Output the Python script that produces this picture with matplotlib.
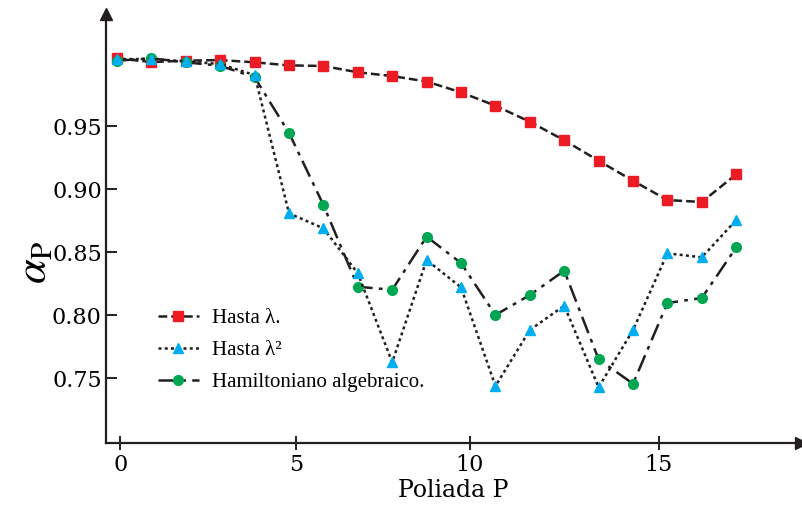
import numpy as np
import matplotlib
matplotlib.use("Agg")
import matplotlib.pyplot as plt

# Poliada index and the three curves
poliada = np.arange(19)
hasta_lambda = [1.0037, 1.0007, 1.0018, 1.0023, 1.0005, 0.9981, 0.9976, 0.9926, 0.9896, 0.9853,
                0.9767, 0.9661, 0.9534, 0.9387, 0.9225, 0.9066, 0.8913, 0.8898, 0.9117]
hasta_lambda2 = [1.0031, 1.0031, 1.0013, 0.9991, 0.9904, 0.8808, 0.8689, 0.8332, 0.7627, 0.8438,
                 0.8221, 0.7439, 0.7883, 0.8076, 0.7429, 0.7883, 0.8491, 0.8459, 0.8755]
hamiltoniano = [1.0018, 1.0037, 1.0005, 0.9978, 0.9886, 0.9445, 0.8874, 0.8226, 0.8202, 0.8623,
                0.8414, 0.8002, 0.8160, 0.8353, 0.7650, 0.7457, 0.8097, 0.8137, 0.8538]

ytick_vals = [0.75, 0.80, 0.85, 0.90, 0.95]
xtick_labels = ["0", "5", "10", "15"]
xtick_pos = [0.1, 5.2, 10.25, 15.75]   # where the labels sit on the original axis

plt.rcParams["mathtext.fontset"] = "stix"
serif = "DejaVu Serif"
ink = "#231F20"

fig = plt.figure(figsize=(8.02, 5.08), dpi=100)
ax = fig.add_axes([0.1322, 0.1274, 0.866, 0.846])

ax.plot(poliada, hasta_lambda, color=ink, lw=1.8, dashes=(3.5, 1.6),
        marker="s", ms=7, mfc="#ED1C24", mec="#ED1C24", label="Hasta λ.")
ax.plot(poliada, hamiltoniano, color=ink, lw=1.8, dashes=(7, 2.5, 1.5, 2.5),
        marker="o", ms=7, mfc="#00A651", mec="#00A651", label="Hamiltoniano algebraico.")
ax.plot(poliada, hasta_lambda2, color=ink, lw=1.8, dashes=(1.2, 1.3),
        marker="^", ms=7.5, mfc="#00AEEF", mec="#00AEEF", label="Hasta λ²")

ax.set_xlim(-0.32, 19.87)
ax.set_ylim(0.6985, 1.0392)

ax.set_yticks(ytick_vals)
ax.set_yticklabels(["%.2f" % v for v in ytick_vals], family=serif, fontsize=16)
ax.set_xticks(xtick_pos)
ax.set_xticklabels(xtick_labels, family=serif, fontsize=16)
ax.tick_params(axis="y", direction="in", length=8, width=1.4, color=ink, pad=3)
ax.tick_params(axis="x", direction="inout", length=10, width=1.4, color=ink, pad=3)

for side in ["top", "right"]:
    ax.spines[side].set_visible(False)
for side in ["left", "bottom"]:
    ax.spines[side].set_linewidth(1.6)
    ax.spines[side].set_color(ink)

# arrow heads on the axes
ax.plot(1, 0, ">", color=ink, ms=9, transform=ax.transAxes, clip_on=False)
ax.plot(0, 1, "^", color=ink, ms=9, transform=ax.transAxes, clip_on=False)

ax.set_xlabel("Poliada P", family=serif, fontsize=17, labelpad=2)
fig.text(33 / 802, 1 - 262 / 508, r"$\alpha_{\mathrm{P}}$", fontsize=32,
         rotation=90, ha="center", va="center")

h, l = ax.get_legend_handles_labels()
order = [0, 2, 1]
ax.legend([h[i] for i in order], [l[i] for i in order], loc="upper left",
          bbox_to_anchor=(0.075, 0.314), frameon=False, borderpad=0, borderaxespad=0,
          handlelength=1.95, handletextpad=0.62, labelspacing=0.6,
          prop={"family": "Liberation Serif", "size": 15})

fig.savefig("out.png", dpi=100)
